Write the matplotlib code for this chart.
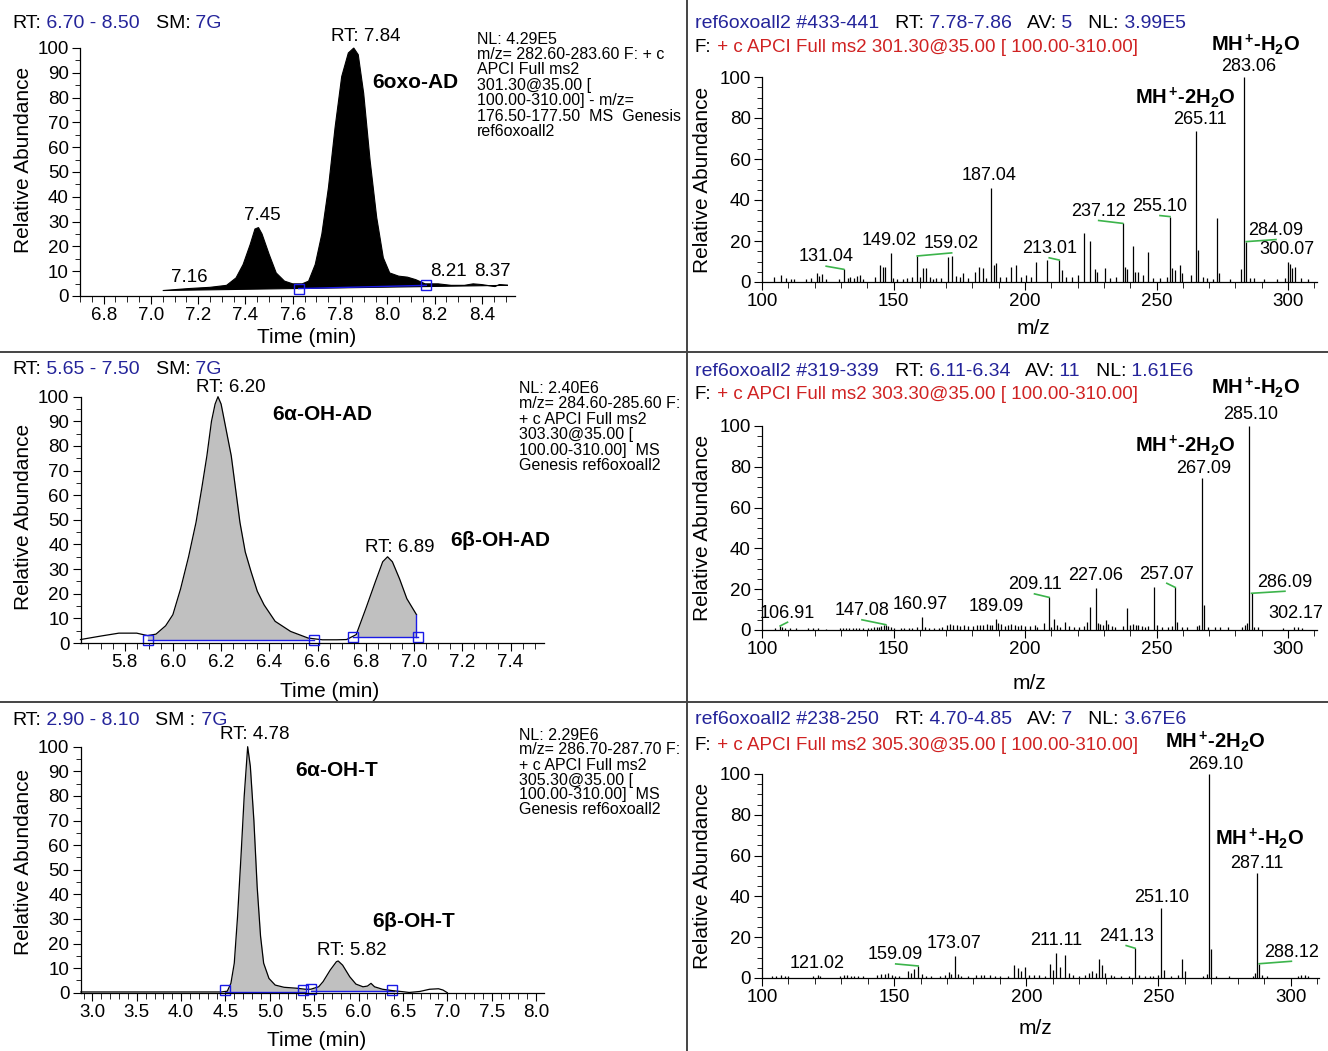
import matplotlib
matplotlib.use('Agg')
import numpy as np
import matplotlib.pyplot as plt
from matplotlib.lines import Line2D
from matplotlib.ticker import MultipleLocator, FormatStrFormatter

plt.rcParams['font.family'] = ['Liberation Sans', 'DejaVu Sans']
plt.rcParams['mathtext.fontset'] = 'custom'
plt.rcParams['mathtext.rm'] = 'Liberation Sans'
plt.rcParams['mathtext.bf'] = 'Liberation Sans:bold'
plt.rcParams['axes.linewidth'] = 0.9

# ---------------- chromatograms: time (min) vs relative abundance ----------------
chrom1_t = [7.05, 7.16, 7.25, 7.32, 7.36, 7.39, 7.42, 7.44, 7.455, 7.47, 7.50, 7.53, 7.565, 7.60,
            7.64, 7.667, 7.695, 7.723, 7.751, 7.779, 7.807, 7.835, 7.858, 7.877, 7.90, 7.927,
            7.955, 7.983, 8.01, 8.048, 8.085, 8.12, 8.16, 8.215, 8.27, 8.326, 8.363, 8.40,
            8.455, 8.474, 8.51]
chrom1_v = [2.2, 3.0, 3.5, 4.3, 7.3, 12.7, 20.8, 27.0, 27.6, 25.0, 16.8, 9.3, 6.0, 4.9,
            4.9, 6.0, 12.7, 25.0, 43.8, 68.0, 88.5, 98.0, 100.0, 97.3, 81.7, 54.7,
            31.7, 15.4, 9.3, 8.0, 7.6, 6.6, 4.9, 4.9, 4.3, 4.3, 4.9, 4.6,
            3.8, 4.6, 4.3]

chrom2_t = [5.617, 5.70, 5.776, 5.85, 5.895, 5.93, 5.97, 6.00, 6.032, 6.065, 6.096, 6.12,
            6.141, 6.16, 6.175, 6.187, 6.20, 6.214, 6.242, 6.278, 6.30, 6.324, 6.35, 6.378,
            6.424, 6.488, 6.561, 6.62, 6.68, 6.72, 6.76, 6.80, 6.84, 6.87, 6.89, 6.91, 6.94,
            6.97, 7.01]
chrom2_v = [1.4, 2.8, 4.0, 4.0, 3.0, 3.6, 7.0, 11.5, 22.0, 35.0, 49.0, 63.0,
            76.0, 90.0, 97.0, 100.0, 97.0, 90.0, 76.0, 49.0, 37.0, 29.0, 21.0, 15.5,
            8.8, 4.7, 2.0, 1.3, 1.3, 1.4, 3.4, 14.0, 25.0, 33.0, 35.0, 33.0, 26.0,
            18.0, 11.5]

chrom3_t = [2.87, 3.5, 4.0, 4.45, 4.52, 4.561, 4.599, 4.636, 4.674, 4.711, 4.75, 4.78, 4.82,
            4.857, 4.895, 4.93, 4.99, 5.06, 5.16, 5.31, 5.40, 5.46, 5.55, 5.60, 5.68, 5.75,
            5.77, 5.82, 5.90, 5.97, 6.05, 6.10, 6.14, 6.18, 6.27, 6.39, 6.50, 6.57, 6.69,
            6.80, 6.90, 6.95, 7.00]
chrom3_v = [0.3, 0.3, 0.3, 0.3, 0.6, 3.8, 12.0, 31.0, 55.0, 80.0, 100.0, 92.0, 70.0,
            43.0, 23.0, 12.0, 5.8, 3.1, 2.2, 1.8, 1.4, 1.4, 2.4, 4.5, 9.2, 12.6,
            12.9, 11.2, 6.5, 3.5, 2.4, 2.7, 3.8, 2.4, 1.4, 0.8, 0.4, 0.1, 0.5,
            1.4, 1.6, 1.1, 0.0]

# integrated peaks: (start, end, baseline level)
chrom2_peaks = [(5.895, 6.585, 1.4), (6.745, 7.015, 2.4)]
chrom3_peaks = [(4.49, 5.40, 0.1), (5.46, 6.40, 0.8)]
chrom1_marks = [(7.625, 3.0), (8.165, 4.3)]
chrom2_marks = [(5.895, 1.4), (6.585, 1.4), (6.745, 2.4), (7.015, 2.4)]
chrom3_marks = [(4.49, 1.1), (5.37, 1.1), (5.46, 1.6), (6.38, 1.3)]

chrom_headers = [
    [('RT:', 'k'), (' 6.70 - 8.50', 'B'), ('   SM:', 'k'), (' 7G', 'B')],
    [('RT:', 'k'), (' 5.65 - 7.50', 'B'), ('   SM:', 'k'), (' 7G', 'B')],
    [('RT:', 'k'), (' 2.90 - 8.10', 'B'), ('   SM :', 'k'), (' 7G', 'B')],
]
chrom_info = [
    ['NL: 4.29E5', 'm/z= 282.60-283.60 F: + c', 'APCI Full ms2', '301.30@35.00 [',
     '100.00-310.00] - m/z=', '176.50-177.50  MS  Genesis', 'ref6oxoall2'],
    ['NL: 2.40E6', 'm/z= 284.60-285.60 F:', '+ c APCI Full ms2', '303.30@35.00 [',
     '100.00-310.00]  MS', 'Genesis ref6oxoall2'],
    ['NL: 2.29E6', 'm/z= 286.70-287.70 F:', '+ c APCI Full ms2', '305.30@35.00 [',
     '100.00-310.00]  MS', 'Genesis ref6oxoall2'],
]
# peak annotations: (text, t, v, bold)
chrom1_notes = [('RT: 7.84', 7.91, 104.5, False), ('7.45', 7.473, 32.3, False),
                ('7.16', 7.163, 7.3, False), ('8.21', 8.26, 9.7, False),
                ('8.37', 8.446, 9.7, False), ('6oxo-AD', 8.118, 85.9, True)]
chrom2_notes = [('RT: 6.20', 6.241, 103.9, False), (r'6$\mathbf{\alpha}$-OH-AD', 6.619, 92.6, True),
                ('RT: 6.89', 6.942, 38.6, False), (r'6$\mathbf{\beta}$-OH-AD', 7.357, 41.8, True)]
chrom3_notes = [('RT: 4.78', 4.833, 104.8, False), (r'6$\mathbf{\alpha}$-OH-T', 5.758, 90.5, True),
                (r'6$\mathbf{\beta}$-OH-T', 6.626, 29.1, True), ('RT: 5.82', 5.927, 17.0, False)]

# ---------------- MS2 spectra: (m/z, relative abundance) ----------------
spec1_peaks = [
    (104.7, 2.3), (107.2, 3.4), (109.1, 1.8), (111.0, 1.5), (112.3, 1.5), (116.7, 1.5), (118.5, 2.1),
    (120.8, 4.2), (121.7, 2.9), (122.9, 3.7), (124.2, 1.5), (129.2, 1.5), (131.04, 6.2), (132.6, 1.8),
    (133.4, 2.6), (134.9, 2.0), (136.1, 2.9), (137.1, 3.4), (138.4, 1.3), (142.8, 2.6), (144.9, 8.1),
    (145.9, 7.5), (146.9, 7.5), (149.02, 14.0), (149.9, 1.8), (151.2, 1.5), (153.7, 1.5), (155.0, 1.8),
    (156.9, 2.6), (159.02, 12.7), (160.0, 2.6), (161.3, 6.7), (162.5, 6.7), (163.8, 2.6), (165.0, 1.5),
    (166.3, 1.9), (168.2, 1.8), (170.7, 12.0), (172.3, 12.7), (173.8, 2.9), (175.1, 2.6), (176.6, 4.2),
    (178.2, 2.1), (181.1, 5.0), (182.6, 7.5), (184.1, 6.7), (185.1, 1.8), (187.04, 45.7), (188.3, 8.3),
    (189.1, 9.1), (190.4, 2.6), (192.7, 2.3), (194.5, 7.2), (196.4, 8.1), (198.3, 2.6), (200.2, 3.4),
    (202.1, 2.6), (204.3, 9.9), (208.5, 10.7), (213.01, 10.7), (214.1, 5.9), (215.7, 2.6), (218.0, 2.6),
    (220.1, 3.4), (222.3, 24.0), (224.6, 20.0), (226.5, 6.2), (227.5, 5.0), (230.5, 6.7), (232.2, 1.8),
    (234.7, 2.3), (237.12, 28.6), (238.1, 7.5), (238.9, 6.2), (240.9, 17.7), (241.9, 4.7), (243.0, 4.7),
    (244.9, 3.4), (246.8, 14.8), (248.6, 1.8), (251.2, 1.8), (253.8, 2.3), (255.10, 31.9), (255.9, 6.7),
    (256.9, 5.9), (258.9, 8.3), (259.7, 4.2), (263.2, 3.4), (265.11, 73.8), (265.8, 15.6), (267.5, 2.6),
    (269.0, 1.8), (271.6, 1.5), (272.9, 31.4), (273.6, 4.2), (278.0, 1.5), (282.0, 6.2), (283.06, 100.0),
    (284.09, 19.7), (285.6, 2.0), (286.9, 1.8), (290.7, 1.5), (295.8, 1.5), (299.0, 1.8), (300.07, 9.9),
    (300.6, 8.8), (301.5, 6.7), (302.5, 7.2), (304.8, 1.8), (307.7, 1.5)]
spec2_peaks = [
    (105.0, 0.8), (106.91, 2.0), (107.7, 1.6), (108.7, 0.8), (110.6, 0.8), (113.1, 0.8), (117.5, 0.8),
    (119.4, 0.8), (121.3, 0.8), (124.4, 0.6), (129.5, 0.8), (130.7, 1.1), (132.0, 1.0), (133.2, 1.1),
    (134.5, 1.1), (135.8, 1.0), (137.0, 1.1), (138.3, 1.1), (140.2, 1.1), (141.4, 1.1), (142.7, 1.3),
    (143.7, 1.3), (144.5, 1.6), (145.4, 2.0), (146.4, 2.3), (147.08, 2.6), (147.9, 2.0), (148.9, 1.6),
    (150.2, 1.1), (152.7, 1.1), (154.0, 0.8), (155.9, 1.1), (157.1, 1.1), (159.0, 1.6), (160.97, 6.2),
    (162.1, 1.6), (163.4, 1.1), (165.3, 1.0), (167.2, 1.1), (168.4, 1.6), (170.3, 2.4), (171.6, 2.9),
    (172.8, 2.4), (174.1, 2.3), (175.3, 2.1), (176.8, 2.3), (178.5, 2.0), (180.3, 2.0), (181.6, 2.3),
    (182.9, 2.6), (184.1, 2.3), (185.4, 3.1), (186.6, 2.3), (187.6, 2.6), (189.09, 5.5), (189.8, 3.3),
    (191.0, 2.9), (192.3, 2.1), (193.5, 2.4), (194.8, 2.9), (196.1, 2.4), (197.3, 2.1), (198.6, 2.3),
    (199.8, 2.0), (201.7, 2.0), (203.6, 2.3), (204.6, 1.3), (207.1, 3.3), (209.11, 16.0), (210.0, 1.6),
    (211.0, 5.5), (212.1, 2.4), (213.4, 1.6), (215.1, 3.9), (216.6, 2.0), (218.5, 1.3), (220.4, 1.3),
    (222.3, 2.0), (223.5, 4.1), (224.8, 11.4), (227.06, 20.4), (227.8, 3.6), (228.6, 2.9), (229.5, 2.4),
    (230.7, 4.9), (231.7, 2.8), (233.0, 2.0), (234.3, 1.6), (237.4, 2.0), (238.7, 10.6), (240.0, 2.3),
    (241.2, 2.9), (242.1, 2.4), (243.1, 2.3), (244.4, 2.0), (245.6, 1.6), (246.9, 2.0), (249.2, 21.2),
    (250.0, 2.3), (252.0, 1.6), (254.2, 1.6), (255.8, 2.0), (257.07, 20.9), (257.8, 3.8), (259.6, 1.6),
    (261.5, 1.6), (265.2, 2.0), (266.1, 2.4), (267.09, 74.4), (268.0, 12.2), (269.7, 1.6), (272.2, 1.3),
    (274.1, 1.6), (277.3, 1.3), (282.3, 1.6), (283.6, 2.4), (284.2, 3.6), (285.10, 100.0), (286.09, 18.0),
    (287.1, 1.6), (288.4, 1.6), (298.1, 1.1), (302.17, 1.6), (303.8, 1.3), (305.1, 1.1)]
spec3_peaks = [
    (103.9, 1.1), (105.3, 0.8), (107.3, 1.4), (108.7, 1.1), (110.0, 0.8), (119.4, 1.1), (121.02, 1.4),
    (122.1, 1.0), (129.5, 0.8), (130.9, 1.4), (132.2, 1.4), (133.6, 1.1), (134.9, 1.1), (136.3, 0.8),
    (138.3, 0.8), (143.7, 1.4), (145.0, 1.9), (146.4, 2.1), (147.7, 2.4), (149.1, 1.6), (150.4, 1.1),
    (151.8, 0.8), (155.1, 3.5), (156.2, 2.4), (157.6, 4.3), (159.09, 5.9), (160.5, 1.9), (161.9, 1.1),
    (163.9, 0.8), (167.3, 0.8), (169.3, 1.4), (170.6, 3.0), (171.7, 1.9), (173.07, 10.6), (174.0, 1.9),
    (175.4, 1.1), (178.1, 1.1), (180.8, 1.4), (182.8, 1.4), (184.1, 1.7), (186.1, 1.4), (188.2, 1.1),
    (190.2, 1.1), (192.9, 0.8), (195.3, 6.2), (196.7, 5.1), (198.0, 3.5), (199.4, 5.6), (201.0, 1.4),
    (203.0, 1.4), (204.7, 1.7), (207.0, 1.1), (209.1, 7.1), (210.1, 4.0), (211.11, 12.2), (212.8, 5.6),
    (214.7, 11.4), (216.1, 2.4), (217.8, 1.7), (219.8, 1.1), (222.3, 1.4), (223.6, 2.4), (225.0, 3.5),
    (226.3, 2.4), (227.4, 9.4), (228.7, 6.2), (229.9, 2.4), (232.0, 1.4), (233.3, 1.1), (236.0, 1.1),
    (238.7, 1.1), (241.13, 14.6), (242.7, 1.4), (244.8, 1.1), (246.8, 1.1), (248.1, 1.1), (249.8, 1.4),
    (251.10, 34.3), (252.2, 4.0), (254.9, 1.1), (257.3, 1.4), (258.9, 9.4), (260.0, 3.5), (267.0, 1.1),
    (268.4, 1.9), (269.10, 100.0), (270.0, 14.1), (271.7, 1.1), (276.7, 1.1), (285.9, 1.1), (286.6, 2.4),
    (287.11, 51.7), (288.12, 7.0), (289.2, 1.4), (291.2, 1.1), (302.7, 1.1), (304.0, 1.4), (305.4, 1.4),
    (306.7, 1.1)]

# labelled peaks: (m/z, label x, label y)
spec1_labels = [(131.04, 124.4, 12.2), (149.02, 148.4, 20.3), (159.02, 172.1, 18.7), (187.04, 186.3, 52.0),
                (213.01, 209.2, 16.3), (237.12, 228.0, 34.5), (255.10, 251.3, 36.9), (265.11, 266.3, 79.2),
                (283.06, 285.0, 105.0), (284.09, 295.4, 25.2), (300.07, 299.7, 15.8)]
spec2_labels = [(106.91, 109.7, 8.3), (147.08, 138.0, 9.5), (160.97, 160.0, 12.4), (189.09, 188.9, 11.6),
                (209.11, 203.6, 22.2), (227.06, 227.0, 26.8), (257.07, 253.9, 27.4), (267.09, 267.8, 79.3),
                (285.10, 285.8, 105.5), (286.09, 298.8, 23.5), (302.17, 303.1, 8.3)]
spec3_labels = [(121.02, 120.8, 7.3), (159.09, 150.6, 11.4), (173.07, 172.7, 16.8), (211.11, 211.3, 18.4),
                (241.13, 237.8, 20.4), (251.10, 251.2, 39.6), (269.10, 271.5, 104.5), (287.11, 287.2, 56.3),
                (288.12, 300.3, 12.7)]
ion_2w = r'MH$^{\,\mathbf{+}}$-2H$_{\mathbf{2}}$O'
ion_1w = r'MH$^{\,\mathbf{+}}$-H$_{\mathbf{2}}$O'
spec1_ions = [(ion_2w, 261.0, 89.8), (ion_1w, 287.6, 116.0)]
spec2_ions = [(ion_2w, 261.0, 90.4), (ion_1w, 287.6, 119.0)]
spec3_ions = [(ion_2w, 271.3, 116.0), (ion_1w, 288.3, 68.2)]

spec_headers = [('#433-441', '7.78-7.86', '5', '3.99E5', '301.30'),
                ('#319-339', '6.11-6.34', '11', '1.61E6', '303.30'),
                ('#238-250', '4.70-4.85', '7', '3.67E6', '305.30')]

W, H = 1328, 1051
TXT_BLUE = '#24249a'
TXT_RED = '#d02222'
INT_BLUE = '#1a1ae6'
FILL_GRAY = '#c0c0c0'
LEAD_GREEN = '#3cb44b'

fig = plt.figure(figsize=(W / 100, H / 100), dpi=100)
renderer = fig.canvas.get_renderer()


def px_axes(left, right, top, bottom):
    return fig.add_axes([left / W, 1 - bottom / H, (right - left) / W, (bottom - top) / H])


def ftext(x, y, s, **kw):
    return fig.text(x / W, 1 - y / H, s, **kw)


def colored_line(x, y, parts, size):
    for s, c in parts:
        col = {'k': 'k', 'B': TXT_BLUE, 'R': TXT_RED}[c]
        t = ftext(x, y, s, color=col, fontsize=size, va='center', ha='left')
        x += t.get_window_extent(renderer).width


def style_axes(ax, ylab_xy, xlab, xlab_xy):
    for s in ('top', 'right'):
        ax.spines[s].set_visible(False)
    ax.set_ylim(0, 100)
    ax.patch.set_alpha(0)
    ax.tick_params(which='both', direction='out', labelsize=13.5, pad=2)
    ax.tick_params(axis='y', which='major', length=6)
    ax.tick_params(axis='y', which='minor', length=3.5)
    ax.tick_params(axis='x', which='major', length=6)
    ax.tick_params(axis='x', which='minor', length=4.5)
    ax.set_ylabel('Relative Abundance', fontsize=15)
    ax.yaxis.set_label_coords(*ylab_xy)
    ax.set_xlabel(xlab, fontsize=15)
    ax.xaxis.set_label_coords(*xlab_xy)


# ---------------- left column: chromatograms ----------------
chrom_boxes = [(80, 515, 48, 296), (80.5, 543.6, 396.7, 643), (80.5, 544.4, 746.7, 992.7)]
chrom_xlims = [(6.70, 8.54), (5.617, 7.537), (2.866, 8.094)]
chrom_ticks = [(0.2, 0.05), (0.2, 0.05), (0.5, 0.1)]
chrom_ylab = [(-0.108, 0.548), (-0.103, 0.512), (-0.103, 0.531)]
chrom_xlab = [(0.52, -0.129), (0.539, -0.158), (0.51, -0.157)]
header_y = [23, 369, 720.7]
info_pos = [(477, 39, 15.5), (519, 388.5, 15.4), (519, 735, 15.0)]

chrom_t = [chrom1_t, chrom2_t, chrom3_t]
chrom_v = [chrom1_v, chrom2_v, chrom3_v]
chrom_peaks = [None, chrom2_peaks, chrom3_peaks]
chrom_marks = [chrom1_marks, chrom2_marks, chrom3_marks]
chrom_notes = [chrom1_notes, chrom2_notes, chrom3_notes]

for i in range(3):
    ax = px_axes(*chrom_boxes[i])
    t = np.array(chrom_t[i])
    v = np.array(chrom_v[i])
    if chrom_peaks[i] is None:
        ax.fill(t, v, color='k', lw=0.8, clip_on=False)
        mx, my = zip(*chrom_marks[i])
        ax.plot(mx, my, color=INT_BLUE, lw=1.0)
    else:
        for (a, b, base) in chrom_peaks[i]:
            m = (t >= a) & (t <= b)
            ax.fill_between(t[m], v[m], base, color=FILL_GRAY, lw=0)
            ax.plot([a, b], [base, base], color=INT_BLUE, lw=1.0)
        ax.plot(t, v, color='k', lw=0.9, clip_on=False)
    mx, my = zip(*chrom_marks[i])
    ax.plot(mx, my, 's', mfc='none', mec=INT_BLUE, ms=7.5, mew=1.0, clip_on=False)
    if i == 1:
        ax.plot([t[-1], t[-1]], [chrom2_peaks[1][2], v[-1]], color=INT_BLUE, lw=1.0)

    ax.set_xlim(*chrom_xlims[i])
    ax.xaxis.set_major_locator(MultipleLocator(chrom_ticks[i][0]))
    ax.xaxis.set_minor_locator(MultipleLocator(chrom_ticks[i][1]))
    ax.xaxis.set_major_formatter(FormatStrFormatter('%.1f'))
    ax.yaxis.set_major_locator(MultipleLocator(10))
    ax.yaxis.set_minor_locator(MultipleLocator(5))
    style_axes(ax, chrom_ylab[i], 'Time (min)', chrom_xlab[i])

    for s, x, y, bold in chrom_notes[i]:
        ax.text(x, y, s, ha='center', va='center', fontsize=15 if bold else 13.5,
                fontweight='bold' if bold else 'normal')

    colored_line(12, header_y[i], chrom_headers[i], 14)
    ix, iy, isp = info_pos[i]
    for k, line in enumerate(chrom_info[i]):
        ftext(ix, iy + k * isp, line, fontsize=11.5, va='center', ha='left')

# ---------------- right column: MS2 spectra ----------------
spec_boxes = [(762, 1316.5, 77, 282), (762, 1316.5, 426, 630), (762, 1318.6, 774, 978)]
spec_xmax = [310.8, 310.8, 310.6]
spec_ylab = [(-0.09, 0.498), (-0.09, 0.5), (-0.09, 0.5)]
spec_xlab = [(0.49, -0.18), (0.483, -0.216), (0.492, -0.2)]
spec_head_y = [(23, 47), (371, 395), (720, 745)]
spec_peaks = [spec1_peaks, spec2_peaks, spec3_peaks]
spec_labels = [spec1_labels, spec2_labels, spec3_labels]
spec_ions = [spec1_ions, spec2_ions, spec3_ions]

for i in range(3):
    ax = px_axes(*spec_boxes[i])
    mz = [p[0] for p in spec_peaks[i]]
    ab = [p[1] for p in spec_peaks[i]]
    height = dict(spec_peaks[i])
    ax.vlines(mz, 0, ab, color='k', lw=0.9, clip_on=False)
    for val, lx, ly in spec_labels[i]:
        ax.text(lx, ly, f'{val:.2f}', ha='center', va='center', fontsize=13)
        if abs(lx - val) > 2.5:
            ax.plot([val, lx], [height[val], ly - 4.5], color=LEAD_GREEN, lw=1.2, clip_on=False)
    for s, x, y in spec_ions[i]:
        ax.text(x, y, s, ha='center', va='center', fontsize=14.5, fontweight='bold')

    ax.set_xlim(100, spec_xmax[i])
    ax.xaxis.set_major_locator(MultipleLocator(50))
    ax.xaxis.set_minor_locator(MultipleLocator(10))
    ax.yaxis.set_major_locator(MultipleLocator(20))
    ax.yaxis.set_minor_locator(MultipleLocator(5))
    style_axes(ax, spec_ylab[i], 'm/z', spec_xlab[i])

    scan, rt, av, nl, prec = spec_headers[i]
    y1, y2 = spec_head_y[i]
    colored_line(695, y1, [('ref6oxoall2 ' + scan, 'B'), ('   RT:', 'k'), (' ' + rt, 'B'),
                           ('   AV:', 'k'), (' ' + av, 'B'), ('   NL:', 'k'), (' ' + nl, 'B')], 14)
    colored_line(695, y2, [('F:', 'k'),
                           (' + c APCI Full ms2 ' + prec + '@35.00 [ 100.00-310.00]', 'R')], 13.5)

# panel dividers
for y in (352, 702):
    fig.add_artist(Line2D([0, 1], [1 - y / H] * 2, color='#444444', lw=1.4, transform=fig.transFigure))
fig.add_artist(Line2D([687 / W] * 2, [0, 1], color='#444444', lw=1.4, transform=fig.transFigure))

fig.savefig('out.png', dpi=100)
